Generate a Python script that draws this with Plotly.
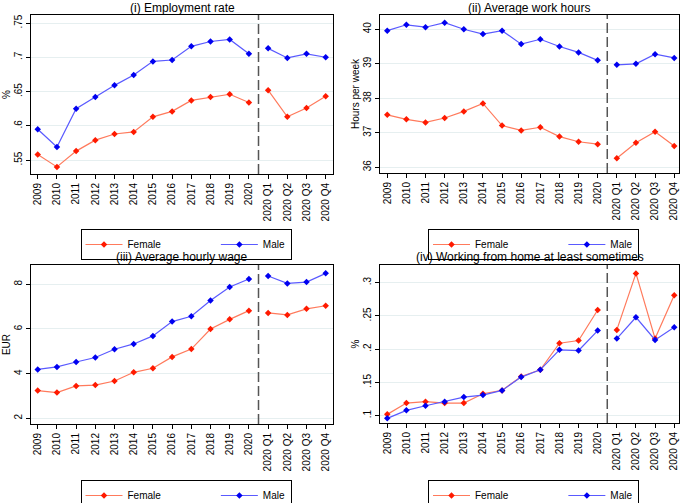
import plotly.graph_objects as go

labels = ["2009", "2010", "2011", "2012", "2013", "2014", "2015", "2016", "2017",
          "2018", "2019", "2020", "2020 Q1", "2020 Q2", "2020 Q3", "2020 Q4"]
N_ANNUAL = 12  # first 12 labels are annual, the rest are 2020 quarters

emp_female = [0.558, 0.540, 0.563, 0.579, 0.588, 0.591, 0.613, 0.621, 0.637,
              0.642, 0.646, 0.634, 0.652, 0.613, 0.626, 0.643]
emp_male = [0.595, 0.569, 0.625, 0.642, 0.659, 0.674, 0.694, 0.696, 0.716,
            0.723, 0.726, 0.705, 0.713, 0.699, 0.705, 0.700]

hrs_female = [37.52, 37.39, 37.30, 37.43, 37.62, 37.85, 37.21, 37.07, 37.16,
              36.89, 36.74, 36.67, 36.26, 36.71, 37.03, 36.62]
hrs_male = [39.96, 40.13, 40.06, 40.19, 40.00, 39.86, 39.96, 39.57, 39.71,
            39.50, 39.33, 39.10, 38.97, 39.00, 39.28, 39.17]

wage_female = [3.24, 3.15, 3.45, 3.49, 3.67, 4.06, 4.24, 4.75, 5.10,
               6.00, 6.43, 6.82, 6.72, 6.63, 6.90, 7.04]
wage_male = [4.19, 4.30, 4.52, 4.72, 5.09, 5.33, 5.69, 6.33, 6.57,
             7.27, 7.88, 8.24, 8.37, 8.04, 8.10, 8.49]

wfh_female = [0.102, 0.119, 0.121, 0.119, 0.119, 0.133, 0.138, 0.159, 0.169,
              0.209, 0.213, 0.259, 0.229, 0.314, 0.216, 0.281]
wfh_male = [0.096, 0.108, 0.115, 0.121, 0.128, 0.131, 0.138, 0.158, 0.169,
            0.199, 0.198, 0.228, 0.216, 0.248, 0.214, 0.233]

titles = ["(i) Employment rate", "(ii) Average work hours",
          "(iii) Average hourly wage", "(iv) Working from home at least sometimes"]
ytitles = ["%", "Hours per week", "EUR", "%"]
series_names = ["Female", "Male"]

emp_ticks = [0.55, 0.6, 0.65, 0.7, 0.75]
emp_ticktext = [".55", ".6", ".65", ".7", ".75"]
hrs_ticks = [36, 37, 38, 39, 40]
hrs_ticktext = ["36", "37", "38", "39", "40"]
wage_ticks = [2, 4, 6, 8]
wage_ticktext = ["2", "4", "6", "8"]
wfh_ticks = [0.1, 0.15, 0.2, 0.25, 0.3]
wfh_ticktext = [".1", ".15", ".2", ".25", ".3"]

FONT = "Liberation Sans, Arial, sans-serif"
W, H = 685, 503
LINE_COLORS = ["#FF7A5C", "#5A5AFF"]
MARK_COLORS = ["#FF1A00", "#0000F0"]

# pixel boxes of plot areas (left, top, right, bottom)
boxes = [(31, 15, 333, 174), (380, 15, 679, 173), (31, 265, 333, 424), (380, 265, 679, 423)]
xranges = [[-0.35, 15.38], [-0.38, 15.25], [-0.35, 15.38], [-0.38, 15.25]]
yranges = [[0.5296, 0.7617], [35.835, 40.414], [1.745, 8.864], [0.089, 0.3266]]
yticks = [(emp_ticks, emp_ticktext), (hrs_ticks, hrs_ticktext),
          (wage_ticks, wage_ticktext), (wfh_ticks, wfh_ticktext)]
series = [(emp_female, emp_male), (hrs_female, hrs_male),
          (wage_female, wage_male), (wfh_female, wfh_male)]
legend_tops = [229, 229, 480, 480]
title_centers = [8, 8, 257, 257]

fig = go.Figure()
layout = dict(width=W, height=H, margin=dict(l=0, r=0, t=0, b=0, autoexpand=False),
              paper_bgcolor="white", plot_bgcolor="white",
              font=dict(family=FONT, size=10, color="black"),
              annotations=[], shapes=[])

for i in range(4):
    n = "" if i == 0 else str(i + 1)
    xa, ya = "x" + n, "y" + n
    leg = "legend" + n
    l, t, r, b = boxes[i]
    for k, vals in enumerate(series[i]):
        name = series_names[k]
        disp = name + "\u00a0" * 18 if k == 0 else name
        for seg, (a, z) in enumerate([(0, N_ANNUAL), (N_ANNUAL, len(labels))]):
            fig.add_trace(go.Scatter(
                x=labels[a:z], y=vals[a:z], mode="lines+markers", name=disp,
                legendgroup=f"{leg}-{name}", showlegend=(seg == 0),
                line=dict(color=LINE_COLORS[k], width=1.2),
                marker=dict(color=MARK_COLORS[k], symbol="diamond", size=5),
                xaxis=xa, yaxis=ya, legend=leg, hoverinfo="x+y"))
    layout["xaxis" + n] = dict(domain=[l / W, r / W], anchor=ya, type="category",
                               categoryorder="array", categoryarray=labels,
                               range=xranges[i], autorange=False, automargin=False,
                               tickangle=-90, ticks="outside",
                               ticklen=4, tickcolor="black", showline=True,
                               linecolor="black", linewidth=1, mirror=True,
                               showgrid=False, zeroline=False,
                               tickfont=dict(size=10))
    tv, tt = yticks[i]
    layout["yaxis" + n] = dict(domain=[1 - b / H, 1 - t / H], anchor=xa,
                               range=yranges[i], autorange=False, automargin=False,
                               tickvals=tv, ticktext=tt,
                               tickangle=-90, ticks="outside", ticklen=4,
                               tickcolor="black", showline=True, linecolor="black",
                               linewidth=1, mirror=True, showgrid=True,
                               gridcolor="#E6EFF0", gridwidth=1, zeroline=False,
                               tickfont=dict(size=10),
                               title=dict(text=ytitles[i], font=dict(size=10), standoff=0))
    layout[leg] = dict(orientation="h", x=((l + r) / 2 + 4) / W, xanchor="center",
                       y=1 - legend_tops[i] / H, yanchor="top",
                       bordercolor="black", borderwidth=1, bgcolor="white",
                       font=dict(size=10), itemwidth=37, tracegroupgap=0)
    layout["annotations"].append(dict(text=titles[i], x=((l + r) / 2) / W,
                                      y=1 - title_centers[i] / H, xref="paper", yref="paper",
                                      xanchor="center", yanchor="middle",
                                      showarrow=False, font=dict(size=12)))
    layout["shapes"].append(dict(type="line", xref=xa, yref=ya + " domain",
                                 x0=11.5, x1=11.5, y0=0, y1=1,
                                 line=dict(color="#555555", width=1.5, dash="10px,4px")))

fig.update_layout(**layout)
fig.write_html("out.html", config={"displayModeBar": False},
               post_script="document.body.style.margin='0px';document.body.style.padding='0px';")
